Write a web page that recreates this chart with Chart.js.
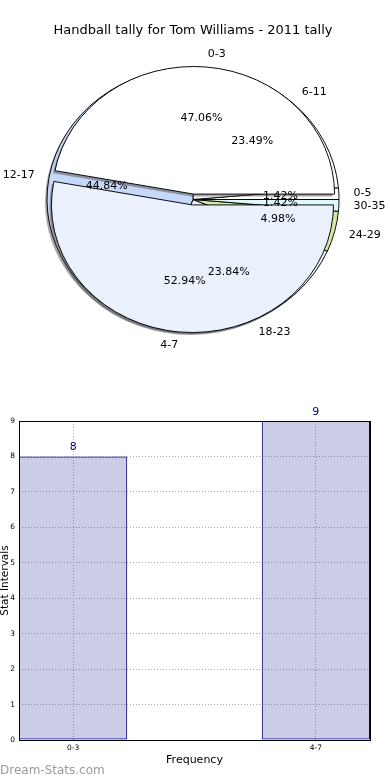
<!DOCTYPE html>
<html>
<head>
<meta charset="utf-8">
<script src="https://cdn.jsdelivr.net/npm/chart.js@4/dist/chart.umd.min.js"></script>
<style>
    html, body { margin: 0; padding: 0; background: #fff; }
    #wrap { position: relative; width: 390px; height: 780px; overflow: hidden; }
    canvas { position: absolute; left: 0; }
    #pieB, #pieA { top: 0; }
    #bars { top: 390px; }
    #mark { position: absolute; left: 0; top: 763px; font: 12px 'DejaVu Sans', sans-serif; line-height: 14px; color: #9a9a9a; }
</style>
</head>
<body>
<div id="wrap">
    <canvas id="pieB" width="390" height="390"></canvas>
    <canvas id="pieA" width="390" height="390"></canvas>
    <canvas id="bars" width="390" height="390"></canvas>
    <div id="mark">Dream-Stats.com</div>
</div>
<script>
const chartTitle = 'Handball tally for Tom Williams - 2011 tally';

// pie 1: the two groups
const groupLabels = ['0-3', '4-7'];
const groupPercents = [47.06, 52.94];

// pie 2: the stat ranges
const rangeLabels = ['0-5', '6-11', '12-17', '18-23', '24-29', '30-35'];
const rangePercents = [1.42, 23.49, 44.84, 23.84, 4.98, 1.42];

// bar chart
const freqValues = [8, 9];
const yMax = 9;

const FONT = "'DejaVu Sans', sans-serif";
const SQUASH = 0.905;

// per pie look: explode distance and which labels it shows
const pieConf = {
    pieB: { explode: [0, 0, 0, 0, 0, 0], labels: rangeLabels, percents: rangePercents },
    pieA: { explode: [6, 6], labels: groupLabels, percents: groupPercents },
};
const pies = [];

// Squash the pie into an ellipse (flipped so slices run counter-clockwise),
// explode slices and draw their shadows
const pieLook = {
    id: 'pieLook',
    afterDatasetsUpdate(chart) {
        const conf = pieConf[chart.canvas.id];
        chart.getDatasetMeta(0).data.forEach((arc, i) => {
            const baseDraw = Object.getPrototypeOf(arc).draw;
            const d = conf.explode[i] || 0;
            arc.draw = function (ctx, area) {
                const mid = (this.startAngle + this.endAngle) / 2;
                ctx.save();
                ctx.translate(Math.cos(mid) * d, Math.sin(mid) * d);
                baseDraw.call(this, ctx, area);
                ctx.restore();
            };
        });
    },
    beforeDatasetsDraw(chart) {
        const conf = pieConf[chart.canvas.id];
        const ctx = chart.ctx;
        const arcs = chart.getDatasetMeta(0).data;
        const c = arcs[0];
        ctx.save();
        ctx.translate(c.x, c.y);
        ctx.scale(1, -SQUASH);
        ctx.translate(-c.x, -c.y);

        // shadow, offset down-left on screen
        const sx = -2, sy = -2.5 / SQUASH;
        arcs.forEach((arc, i) => {
            const d = conf.explode[i] || 0;
            const mid = (arc.startAngle + arc.endAngle) / 2;
            const x = arc.x + Math.cos(mid) * d + sx;
            const y = arc.y + Math.sin(mid) * d + sy;
            ctx.beginPath();
            ctx.moveTo(x, y);
            ctx.arc(x, y, arc.outerRadius, arc.startAngle, arc.endAngle);
            ctx.closePath();
            ctx.fillStyle = 'rgba(77,77,77,0.5)';
            ctx.fill();
        });
    },
    afterDatasetsDraw(chart) {
        chart.ctx.restore();
    },
};

// labels of every pie, drawn by the top pie so nothing covers them
function drawPieLabels(ctx, chart) {
    const conf = pieConf[chart.canvas.id];
    ctx.save();
    ctx.fillStyle = '#000';
    ctx.font = '11px ' + FONT;
    ctx.textBaseline = 'middle';
    chart.getDatasetMeta(0).data.forEach((arc, i) => {
        const d = conf.explode[i] || 0;
        const mid = (arc.startAngle + arc.endAngle) / 2;
        const cos = Math.cos(mid), sin = Math.sin(mid);
        const cx = arc.x + cos * d;
        const cy = arc.y - SQUASH * sin * d;
        const r = arc.outerRadius;

        ctx.textAlign = cos > 0 ? 'left' : 'right';
        ctx.fillText(conf.labels[i], cx + 1.1 * r * cos, cy - SQUASH * 1.1 * r * sin);

        ctx.textAlign = 'center';
        ctx.fillText(conf.percents[i].toFixed(2) + '%', cx + 0.6 * r * cos, cy - SQUASH * 0.6 * r * sin);
    });
    ctx.restore();
}

const pieLabels = {
    id: 'pieLabels',
    afterDraw(chart) {
        pies.forEach(p => drawPieLabels(chart.ctx, p));
        drawPieLabels(chart.ctx, chart);
    },
};

// Bottom pie (stat ranges), carries the title
pies.push(new Chart(document.getElementById('pieB'), {
    type: 'pie',
    data: {
        labels: rangeLabels,
        datasets: [{
            data: rangePercents,
            backgroundColor: ['#ffffff', '#ffffff', '#c5d8f8', '#eaf1fd', '#d5e8a4', '#ddfafa'],
            borderColor: '#000',
            borderWidth: 1,
            clip: false,
        }],
    },
    options: {
        responsive: false,
        animation: false,
        rotation: 90,
        radius: 146,
        layout: { padding: { left: 0, right: 4, top: 0, bottom: 29.6 } },
        events: [],
        plugins: {
            legend: { display: false },
            tooltip: { enabled: false },
            title: {
                display: true,
                text: chartTitle,
                color: '#000',
                font: { family: FONT, size: 13, weight: 'normal', lineHeight: 1.2 },
                padding: { top: 23, bottom: 0 },
            },
        },
    },
    plugins: [pieLook],
}));

// Top pie (the two groups), exploded
new Chart(document.getElementById('pieA'), {
    type: 'pie',
    data: {
        labels: groupLabels,
        datasets: [{
            data: groupPercents,
            backgroundColor: ['#ffffff', '#eaf1fd'],
            borderColor: '#000',
            borderWidth: 1,
            clip: false,
        }],
    },
    options: {
        responsive: false,
        animation: false,
        rotation: 90,
        radius: 141,
        layout: { padding: { left: 0, right: 4, top: 38.6, bottom: 29.6 } },
        events: [],
        plugins: {
            legend: { display: false },
            tooltip: { enabled: false },
        },
    },
    plugins: [pieLook, pieLabels],
});

// value labels above bars + frame round the plot
const barExtras = {
    id: 'barExtras',
    afterDatasetsDraw(chart) {
        const ctx = chart.ctx;
        ctx.save();
        ctx.fillStyle = '#000080';
        ctx.font = '11px ' + FONT;
        ctx.textAlign = 'center';
        ctx.textBaseline = 'middle';
        chart.getDatasetMeta(0).data.forEach((bar, i) => {
            ctx.fillText(String(freqValues[i]), bar.x, bar.y - 9);
        });
        ctx.restore();
    },
    afterDraw(chart) {
        const { ctx, chartArea: a } = chart;
        ctx.save();
        ctx.strokeStyle = '#000';
        ctx.lineWidth = 1;
        ctx.strokeRect(Math.round(a.left) + 0.5, Math.round(a.top) + 0.5, Math.round(a.right - a.left), Math.round(a.bottom - a.top));
        ctx.restore();
    },
};

new Chart(document.getElementById('bars'), {
    type: 'bar',
    data: {
        datasets: [{
            data: freqValues.map((v, i) => ({ x: i, y: v })),
            backgroundColor: 'rgba(0,0,128,0.2)',
            borderColor: '#000080',
            borderWidth: 1,
            borderSkipped: false,
            categoryPercentage: 1,
            barPercentage: 0.446,
        }],
    },
    options: {
        responsive: false,
        animation: false,
        events: [],
        layout: { padding: { left: 0, right: 20, top: 31, bottom: 0 } },
        plugins: {
            legend: { display: false },
            tooltip: { enabled: false },
        },
        scales: {
            x: {
                type: 'linear',
                min: -0.223,
                max: 1.223,
                offset: false,
                z: 1,
                afterBuildTicks: (s) => { s.ticks = groupLabels.map((_, i) => ({ value: i })); },
                afterFit: (s) => { s.height = 40; },
                ticks: {
                    callback: (v) => groupLabels[v],
                    color: '#000',
                    font: { family: FONT, size: 7.5 },
                    padding: 4,
                    autoSkip: false,
                    maxRotation: 0,
                },
                grid: { color: '#a8a8a8', lineWidth: 1, offset: false, drawTicks: false },
                border: { display: false, dash: [1, 2] },
                title: {
                    display: true,
                    text: 'Frequency',
                    color: '#000',
                    font: { family: FONT, size: 11 },
                    padding: { top: 0, bottom: 13 },
                },
            },
            y: {
                min: 0,
                max: yMax,
                z: 1,
                afterFit: (s) => { s.width = 19; },
                ticks: {
                    stepSize: 1,
                    color: '#000',
                    font: { family: FONT, size: 7.5 },
                    padding: 4,
                },
                grid: { color: '#a8a8a8', lineWidth: 1, drawTicks: false },
                border: { display: false, dash: [1, 2] },
                title: {
                    display: true,
                    text: 'Stat Intervals',
                    color: '#000',
                    font: { family: FONT, size: 10.5, lineHeight: 1 },
                    padding: 0,
                },
            },
        },
    },
    plugins: [barExtras],
});
</script>
</body>
</html>
